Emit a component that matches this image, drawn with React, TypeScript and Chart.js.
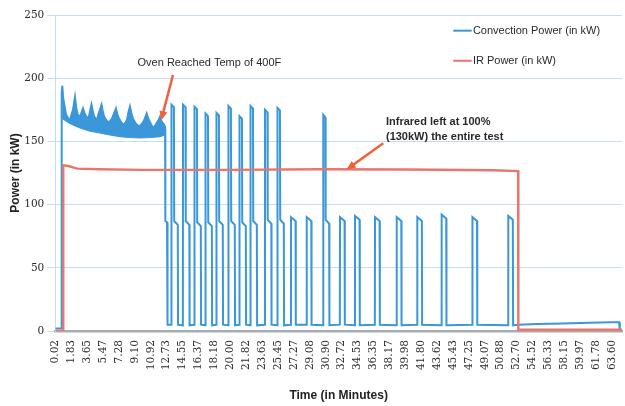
import React, { useEffect, useRef } from 'react';
import { Chart, registerables } from 'chart.js';

Chart.register(...registerables);

// ---- tick labels ----
const xTickValues = [0.02, 1.83, 3.65, 5.47, 7.28, 9.10, 10.92, 12.73, 14.55, 16.37, 18.18, 20.00, 21.82, 23.63, 25.45, 27.27, 29.08, 30.90, 32.72, 34.53, 36.35, 38.17, 39.98, 41.80, 43.62, 45.43, 47.25, 49.07, 50.88, 52.70, 54.52, 56.33, 58.15, 59.97, 61.78, 63.60];
const xTickLabels = ['0.02', '1.83', '3.65', '5.47', '7.28', '9.10', '10.92', '12.73', '14.55', '16.37', '18.18', '20.00', '21.82', '23.63', '25.45', '27.27', '29.08', '30.90', '32.72', '34.53', '36.35', '38.17', '39.98', '41.80', '43.62', '45.43', '47.25', '49.07', '50.88', '52.70', '54.52', '56.33', '58.15', '59.97', '61.78', '63.60'];

// ---- convection power (kW) ----
const convStartTime = [0, 0.70, 0.73];
const convStartPower = [2, 2, 188];

const bandUpperTime = [0.80, 0.88, 1.05, 1.20, 1.34, 1.50, 1.68, 1.85, 2.02, 2.25, 2.40, 2.54, 2.68, 2.82, 3.00, 3.16, 3.35, 3.51, 3.65, 3.79, 3.95, 4.13, 4.28, 4.42, 4.60, 4.76, 4.95, 5.10, 5.28, 5.42, 5.56, 5.80, 6.02, 6.25, 6.48, 6.70, 6.93, 7.10, 7.28, 7.55, 7.85, 8.02, 8.19, 8.36, 8.53, 8.70, 8.87, 9.20, 9.56, 9.80, 10.02, 10.22, 10.44, 10.62, 10.82, 11.05, 11.28, 11.45, 11.62, 11.80, 11.96, 12.08, 12.19, 12.35, 12.51];
const bandUpperPower = [194, 185, 178, 172, 170, 168, 167, 171, 175, 185, 176, 172, 170, 169, 173, 176, 172, 170, 169, 168, 173, 179, 174, 170, 168, 167, 172, 175, 179, 174, 170, 167, 165, 166, 168, 172, 176, 171, 168, 165, 163, 165, 167, 173, 177.5, 172, 168, 164, 162, 163, 165, 168, 172, 168, 165, 162, 161, 163, 165, 167, 169.5, 167, 165, 164, 162];
const bandLowerTime = [0.80, 1.68, 2.82, 3.96, 5.10, 6.25, 7.39, 8.53, 9.66, 10.80, 11.96, 12.51];
const bandLowerPower = [168, 164, 160.6, 158, 156.6, 155, 153.7, 153, 152.7, 153, 153.7, 155];

const bandEndTime = [12.54, 12.57, 12.76, 12.82];
const bandEndPower = [160, 87, 86, 5];

const pulseOn = [13.27, 14.59, 15.90, 17.16, 18.41, 19.78, 21.04, 22.30, 23.95, 25.38, 26.92, 28.72, 30.61, 32.52, 34.23, 36.52, 39.00, 41.35, 44.13, 47.65, 51.74];
const pulseSpikeEnd = [13.55, 14.87, 16.18, 17.44, 18.69, 20.06, 21.32, 22.58, 24.23, 25.66, null, null, 30.85, null, null, null, null, null, null, null, null];
const pulseOff = [14.02, 15.34, 16.65, 17.91, 19.16, 20.53, 21.79, 23.05, 24.70, 26.13, 27.47, 29.27, 31.31, 33.07, 34.78, 37.07, 39.55, 41.90, 44.68, 48.20, 52.29];
const pulseSpike = [179, 179, 177.5, 172, 172.5, 178, 170, 178, 175, 176.5, null, null, 171, null, null, null, null, null, null, null, null];
const pulsePlateau = [87, 87, 86, 86, 87, 87, 86, 87, 88, 88, 90, 90, 88, 90, 91, 90, 90, 90, 92, 90, 91];
const pulseBase = [5, 4.5, 5, 4.5, 5, 4.5, 5, 4.5, 5, 4.5, 5, 5, 4.5, 5, 4.5, 5, 4.5, 5, 4.5, 5, 4.5];

const tailTime = [52.90, 55.0, 58.0, 61.0, 63.5, 64.40, 64.48, 64.73];
const tailPower = [5, 5.5, 6, 6.5, 7, 7, 0, 0];

// ---- IR power (kW) ----
const irTime = [0, 0.89, 0.91, 1.5, 2.5, 5, 10, 20, 30, 40, 50, 52.86, 52.89, 64.73];
const irPower = [0, 0, 131, 130.5, 128.5, 128, 127.5, 127.5, 128, 127.8, 127.2, 126.5, 1, 1];

const BLUE = '#3a97da';
const RED = '#e8766c';
const ARROW = '#f0603a';

type P = { x: number; y: number };

function buildConvection(): P[] {
  const pts: P[] = [];
  convStartTime.forEach((t, i) => pts.push({ x: t, y: convStartPower[i] }));
  bandUpperTime.forEach((t, i) => pts.push({ x: t, y: bandUpperPower[i] }));
  bandEndTime.forEach((t, i) => pts.push({ x: t, y: bandEndPower[i] }));
  pulseOn.forEach((on, i) => {
    const base = pulseBase[i];
    pts.push({ x: on - 0.02, y: base });
    const spike = pulseSpike[i];
    const se = pulseSpikeEnd[i];
    if (spike !== null && se !== null) {
      pts.push({ x: on, y: spike });
      pts.push({ x: se, y: spike - 2 });
      pts.push({ x: se + 0.03, y: pulsePlateau[i] });
    } else {
      pts.push({ x: on, y: pulsePlateau[i] });
    }
    pts.push({ x: pulseOff[i] - 0.03, y: pulsePlateau[i] - 3 });
    pts.push({ x: pulseOff[i], y: base });
  });
  tailTime.forEach((t, i) => pts.push({ x: t, y: tailPower[i] }));
  return pts;
}

function buildBand(): P[] {
  const pts: P[] = [];
  bandUpperTime.forEach((t, i) => pts.push({ x: t, y: bandUpperPower[i] }));
  for (let i = bandLowerTime.length - 1; i >= 0; i--) pts.push({ x: bandLowerTime[i], y: bandLowerPower[i] });
  return pts;
}

const drawArrow = (ctx: CanvasRenderingContext2D, x1: number, y1: number, x2: number, y2: number) => {
  ctx.strokeStyle = ARROW;
  ctx.fillStyle = ARROW;
  ctx.lineWidth = 2.5;
  ctx.beginPath();
  ctx.moveTo(x1, y1);
  ctx.lineTo(x2, y2);
  ctx.stroke();
  const a = Math.atan2(y2 - y1, x2 - x1);
  const L = 7, W = 4;
  ctx.beginPath();
  ctx.moveTo(x2 + Math.cos(a) * 2, y2 + Math.sin(a) * 2);
  ctx.lineTo(x2 - L * Math.cos(a) + W * Math.sin(a), y2 - L * Math.sin(a) - W * Math.cos(a));
  ctx.lineTo(x2 - L * Math.cos(a) - W * Math.sin(a), y2 - L * Math.sin(a) + W * Math.cos(a));
  ctx.closePath();
  ctx.fill();
};

const annotPlugin = {
  id: 'annot',
  afterDatasetsDraw(chart: any) {
    const { ctx } = chart;
    const xs = chart.scales.x;
    const ys = chart.scales.y;
    const px = (t: number) => xs.getPixelForValue(t);
    const py = (v: number) => ys.getPixelForValue(v);
    ctx.save();
    // legend
    ctx.font = '11px "Liberation Sans", Arial, sans-serif';
    ctx.textBaseline = 'middle';
    ctx.textAlign = 'left';
    ctx.lineWidth = 2;
    ctx.strokeStyle = BLUE;
    ctx.beginPath();
    ctx.moveTo(px(45.46), py(237.6));
    ctx.lineTo(px(47.56), py(237.6));
    ctx.stroke();
    ctx.strokeStyle = RED;
    ctx.beginPath();
    ctx.moveTo(px(45.46), py(213.8));
    ctx.lineTo(px(47.56), py(213.8));
    ctx.stroke();
    ctx.fillStyle = '#2a2a2a';
    ctx.fillText('Convection Power (in kW)', px(47.7), py(237.6));
    ctx.fillText('IR Power (in kW)', px(47.7), py(213.8));

    // annotation 1
    ctx.textAlign = 'center';
    ctx.fillText('Oven Reached Temp of 400F', px(17.6), py(212.3));
    drawArrow(ctx, px(13.44), py(202.5), px(12.15), py(168.3));

    // annotation 2
    ctx.font = 'bold 11px "Liberation Sans", Arial, sans-serif';
    ctx.textAlign = 'left';
    ctx.fillStyle = '#2a2a2a';
    ctx.fillText('Infrared left at 100%', px(37.77), py(165.6));
    ctx.fillText('(130kW) the entire test', px(37.77), py(153.7));
    drawArrow(ctx, px(37.46), py(148.5), px(33.47), py(128.7));
    ctx.restore();
  },
};

export default function App() {
  const ref = useRef<HTMLCanvasElement>(null);
  useEffect(() => {
    if (!ref.current) return;
    const chart = new Chart(ref.current, {
      type: 'line',
      data: {
        datasets: [
          {
            label: 'Convection band',
            data: buildBand(),
            borderColor: BLUE,
            backgroundColor: BLUE,
            borderWidth: 1,
            pointRadius: 0,
            fill: 'shape',
            order: 2,
          } as any,
          {
            label: 'Convection Power (in kW)',
            data: buildConvection(),
            borderColor: BLUE,
            borderWidth: 2,
            pointRadius: 0,
            fill: false,
            tension: 0,
            order: 1,
          },
          {
            label: 'IR Power (in kW)',
            data: irTime.map((t, i) => ({ x: t, y: irPower[i] })),
            borderColor: RED,
            borderWidth: 2.4,
            pointRadius: 0,
            fill: false,
            tension: 0,
            order: 0,
          },
        ],
      },
      options: {
        animation: false,
        responsive: false,
        maintainAspectRatio: false,
        parsing: false as any,
        layout: { padding: { top: 15, right: 3, left: 0, bottom: 0 } },
        plugins: { legend: { display: false }, tooltip: { enabled: false } },
        scales: {
          x: {
            type: 'linear',
            min: 0,
            max: 64.73,
            afterBuildTicks: (scale: any) => {
              scale.ticks = xTickValues.map((v) => ({ value: v }));
            },
            afterFit: (scale: any) => {
              scale.height = 75;
              scale.paddingLeft = 0;
              scale.paddingRight = 0;
            },
            ticks: {
              autoSkip: false,
              maxRotation: 90,
              minRotation: 90,
              padding: 9,
              color: '#2a2a2a',
              font: { family: '"DejaVu Serif", serif', size: 10.5 },
              callback: (_v: any, i: number) => xTickLabels[i],
            },
            grid: { display: false, drawTicks: false },
            border: { display: true, color: '#a8adb3', width: 2.5 },
            title: {
              display: true,
              text: 'Time (in Minutes)',
              color: '#222',
              font: { family: '"Liberation Sans", Arial, sans-serif', size: 12, weight: 'bold' },
              padding: { top: 0, bottom: 3 },
            },
          },
          y: {
            min: 0,
            max: 250,
            afterFit: (scale: any) => {
              scale.width = 55.3;
              scale.paddingTop = 0;
              scale.paddingBottom = 0;
            },
            ticks: {
              stepSize: 50,
              padding: 3,
              color: '#2a2a2a',
              font: { family: '"DejaVu Serif", serif', size: 10.5 },
            },
            grid: { color: '#c6def2', lineWidth: 1, tickLength: 8 },
            border: { display: true, color: '#c6def2', width: 1 },
            title: {
              display: true,
              text: 'Power (in kW)',
              color: '#222',
              font: { family: '"Liberation Sans", Arial, sans-serif', size: 12, weight: 'bold' },
              padding: { top: 8, bottom: 0 },
            },
          },
        },
      },
      plugins: [annotPlugin],
    });
    return () => chart.destroy();
  }, []);
  return (
    <div style={{ position: 'fixed', left: 0, top: 0, width: 625, height: 406, background: '#fff' }}>
      <canvas ref={ref} width={625} height={406} style={{ width: 625, height: 406 }} />
    </div>
  );
}
